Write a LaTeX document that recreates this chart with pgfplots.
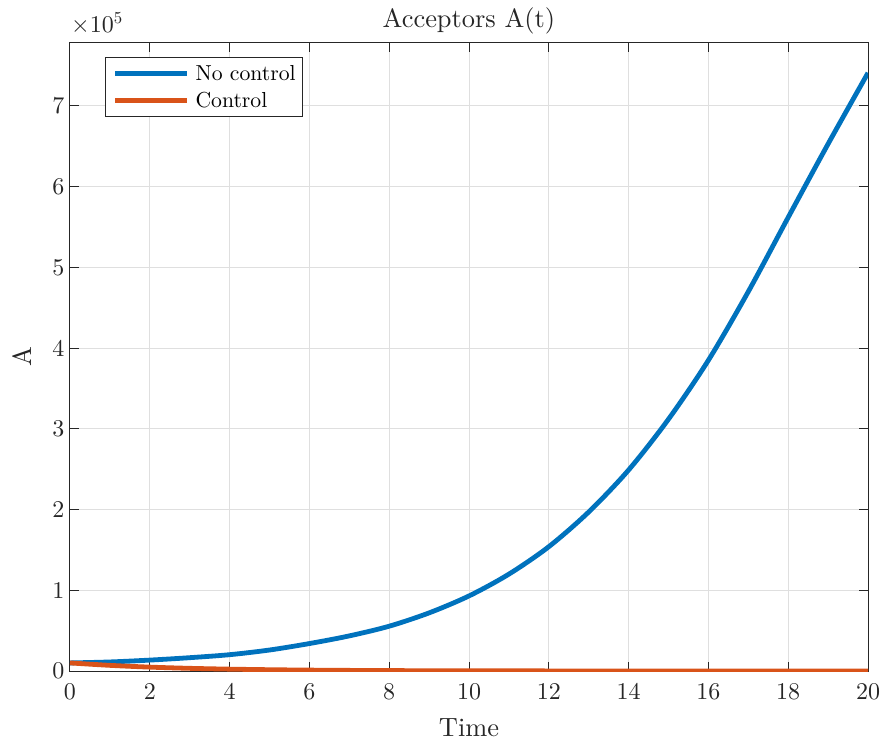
\documentclass[border=0pt]{standalone}
\usepackage{fontspec}
\setmainfont{lmroman10-regular.otf}
\usepackage{pgfplots}
\pgfplotsset{compat=1.18}
\definecolor{mblue}{rgb}{0,0.447,0.741}
\definecolor{morange}{rgb}{0.851,0.325,0.098}
\definecolor{axgray}{rgb}{0.15,0.15,0.15}
\definecolor{gridgray}{rgb}{0.875,0.875,0.875}
\pgfplotstableread{
t A
0 10000
1 11200
2 13500
3 16500
4 20200
5 26000
6 34000
7 43500
8 55500
9 72000
10 93000
11 120000
12 154000
13 197000
14 249000
15 312000
16 385000
17 470000
18 562000
19 653000
20 741000
}\nocontrol
\pgfplotstableread{
t A
0 10000
1 7000
2 4800
3 3300
4 2300
5 1600
6 1100
7 750
8 500
9 350
10 250
12 120
14 60
16 30
18 15
20 8
}\control
\begin{document}
\begin{tikzpicture}
\begin{axis}[
  scale only axis, width=798bp, height=628bp,
  xmin=0, xmax=20, ymin=0, ymax=778000,
  xtick={0,2,...,20}, ytick={0,100000,200000,300000,400000,500000,600000,700000},
  yticklabels={0,1,2,3,4,5,6,7},
  scaled y ticks=false,
  /pgf/number format/assume math mode=true,
  tick label style={font=\fontsize{24bp}{28bp}\selectfont, text=axgray},
  xticklabel style={yshift=-9bp},
  yticklabel style={xshift=-2bp},
  tick align=inside, major tick length=9bp,
  tick style={axgray, line width=1bp},
  axis line style={axgray, line width=1bp},
  grid=major, major grid style={gridgray, line width=1bp},
  xlabel={Time}, ylabel={A},
  label style={font=\fontsize{26.4bp}{30bp}\selectfont, text=axgray},
  xlabel style={at={(axis description cs:0.5,-0.1035)}, anchor=base},
  ylabel style={at={(axis description cs:-0.048,0.5)}, anchor=base},
  title={Acceptors A(t)},
  title style={font=\fontsize{26.4bp}{30bp}\selectfont, text=axgray, at={(axis description cs:0.5,1)}, anchor=base, yshift=10bp},
  legend cell align=left,
  legend style={at={(axis description cs:0.0443,0.9776)}, anchor=north west,
    draw=axgray, line width=0.8bp, fill=white,
    font=\fontsize{21.7bp}{25bp}\selectfont,
    inner xsep=7bp, inner ysep=8bp, row sep=10bp, column sep=6bp,
    nodes={inner sep=0pt}},
  legend image code/.code={\draw[#1, line width=4.8bp] (0bp,0bp) -- (72bp,0bp);},
  clip mode=individual,
]
\addplot[mblue, line width=4.8bp, smooth] table[x=t, y=A] {\nocontrol};
\addlegendentry{No control}
\addplot[morange, line width=4.8bp, smooth] table[x=t, y=A] {\control};
\addlegendentry{Control}
\node[anchor=base west, inner sep=0pt, text=axgray, font=\fontsize{24bp}{28bp}\selectfont, xshift=1bp, yshift=10bp] at (rel axis cs:0,1) {×10\textsuperscript{5}};
\end{axis}
\pgfresetboundingbox
\path (current axis.south west) ++(-70bp,-73bp) rectangle ++(885bp,744bp);
\end{tikzpicture}
\end{document}
